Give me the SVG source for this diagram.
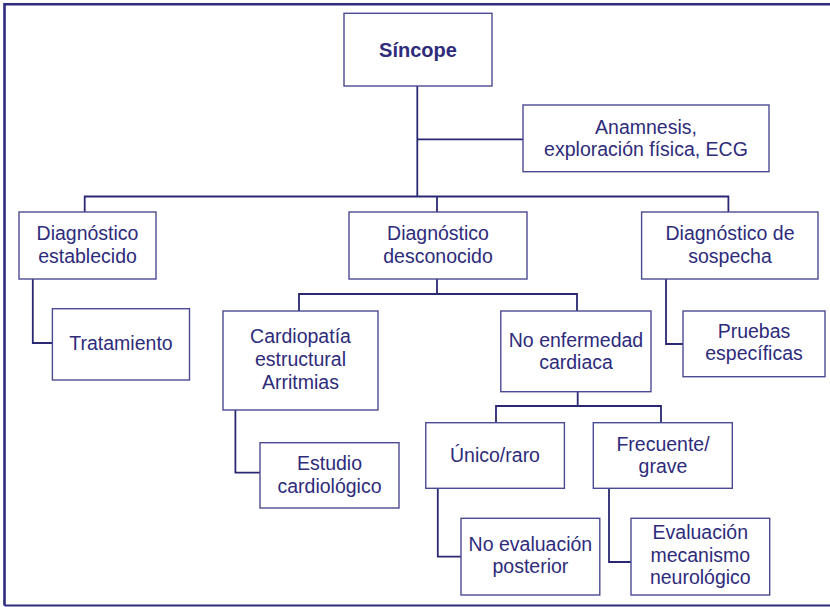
<svg xmlns="http://www.w3.org/2000/svg" width="830" height="607" viewBox="0 0 830 607">
<style>
.box{fill:#fff;stroke:#4a4a92;stroke-width:1.4}
.t{font-family:"Liberation Sans",Arial,sans-serif;font-size:19.5px;fill:#2e2b7b;text-anchor:middle}
.b{font-weight:bold;font-size:20px}
.c{fill:none;stroke:#2a2872;stroke-width:1.8}
</style>
<rect x="0" y="0" width="830" height="607" fill="#fff"/>
<path d="M4.5,605.5 V4.2 H832" fill="none" stroke="#2e2c7f" stroke-width="2.6"/>
<path d="M4.5,605.5 H832" fill="none" stroke="#2e2c7f" stroke-width="2"/>
<g id="connectors" class="c">
<path d="M417.3,86 V196.5"/>
<path d="M417.3,139.3 H523"/>
<path d="M84.7,212 V196.5 H728.4 V212"/>
<path d="M437,196.5 V212"/>
<path d="M32.8,279 V343 H52.4"/>
<path d="M437,279 V294"/>
<path d="M299,311 V294 H577 V311"/>
<path d="M666,279 V344 H683"/>
<path d="M235.4,410 V472.7 H260"/>
<path d="M577.7,391.7 V406"/>
<path d="M496,422.7 V406 H661 V422.7"/>
<path d="M437.8,488.3 V556.7 H461"/>
<path d="M609,488.3 V562 H631"/>
</g>
<g id="sincope"><rect class="box" x="344" y="13.3" width="148" height="72.7"/><text class="t b" x="418" y="56.5">Síncope</text></g>
<g id="anamnesis"><rect class="box" x="523" y="105" width="246" height="66.7"/><text class="t" x="646" y="133.5">Anamnesis,</text><text class="t" x="646" y="155.5">exploración física, ECG</text></g>
<g id="establecido"><rect class="box" x="19" y="212" width="137" height="67"/><text class="t" x="87.5" y="240">Diagnóstico</text><text class="t" x="87.5" y="262.5">establecido</text></g>
<g id="desconocido"><rect class="box" x="349" y="212" width="178" height="67"/><text class="t" x="438" y="240">Diagnóstico</text><text class="t" x="438" y="262.5">desconocido</text></g>
<g id="sospecha"><rect class="box" x="641.6" y="212" width="176.4" height="67"/><text class="t" x="730" y="240">Diagnóstico de</text><text class="t" x="730" y="262.5">sospecha</text></g>
<g id="tratamiento"><rect class="box" x="52.4" y="308.7" width="137.1" height="71.3"/><text class="t" x="121" y="350">Tratamiento</text></g>
<g id="cardiopatia"><rect class="box" x="223" y="311" width="155" height="99"/><text class="t" x="300.5" y="343.3">Cardiopatía</text><text class="t" x="300.5" y="366">estructural</text><text class="t" x="300.5" y="388.5">Arritmias</text></g>
<g id="noenfermedad"><rect class="box" x="500.8" y="311" width="150.2" height="80.7"/><text class="t" x="576" y="346.7">No enfermedad</text><text class="t" x="576" y="368.7">cardiaca</text></g>
<g id="pruebas"><rect class="box" x="683" y="311" width="142" height="65.7"/><text class="t" x="754" y="338.3">Pruebas</text><text class="t" x="754" y="360.3">específicas</text></g>
<g id="estudio"><rect class="box" x="260" y="442.7" width="139" height="65.3"/><text class="t" x="329.5" y="470">Estudio</text><text class="t" x="329.5" y="492.7">cardiológico</text></g>
<g id="unico"><rect class="box" x="425.8" y="422.7" width="138.6" height="65.6"/><text class="t" x="495" y="461.7">Único/raro</text></g>
<g id="frecuente"><rect class="box" x="593.3" y="422.7" width="139" height="65.6"/><text class="t" x="663" y="450.7">Frecuente/</text><text class="t" x="663" y="472.7">grave</text></g>
<g id="noevaluacion"><rect class="box" x="461" y="518.3" width="138.8" height="76.7"/><text class="t" x="530.4" y="550.7">No evaluación</text><text class="t" x="530.4" y="573.3">posterior</text></g>
<g id="evaluacion"><rect class="box" x="631" y="518.3" width="138.7" height="76.7"/><text class="t" x="700.3" y="539.3">Evaluación</text><text class="t" x="700.3" y="562">mecanismo</text><text class="t" x="700.3" y="584.3">neurológico</text></g>
</svg>
